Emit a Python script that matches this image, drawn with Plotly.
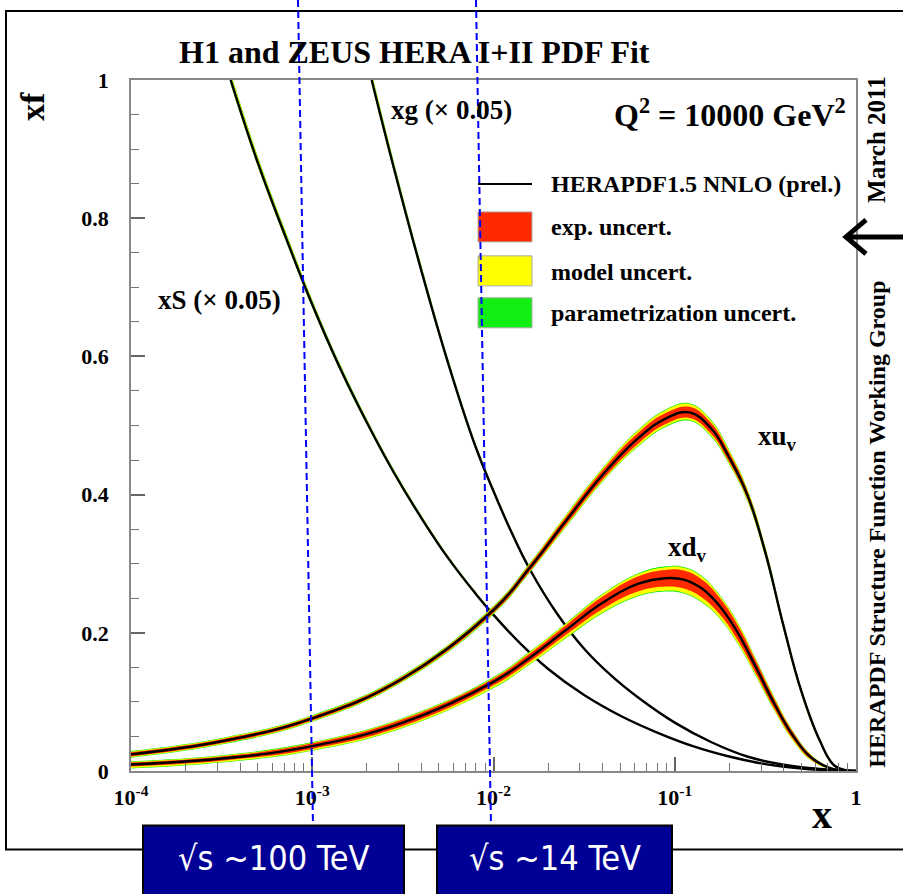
import numpy as np
import plotly.graph_objects as go

# ---------------- data ----------------
# log10(x) grids and central values; xS and xg are scaled by 0.05
LX_S = [-3.45, -3.3, -3.15, -3.0, -2.85, -2.7, -2.55, -2.4, -2.25, -2.1, -2.0, -1.85,
        -1.7, -1.5, -1.3, -1.1, -0.9, -0.7, -0.5, -0.3, -0.1, 0.0]
XS = [1.00, 0.880, 0.775, 0.675, 0.585, 0.505, 0.432, 0.367, 0.308, 0.257, 0.226, 0.184,
      0.148, 0.110, 0.080, 0.056, 0.036, 0.021, 0.010, 0.0035, 0.0005, 0.0]

LX_G = [-2.672, -2.55, -2.4, -2.25, -2.1, -2.0, -1.9, -1.8, -1.65, -1.5, -1.35, -1.2,
        -1.0, -0.8, -0.6, -0.4, -0.2, 0.0]
XG = [1.0, 0.873, 0.726, 0.590, 0.470, 0.405, 0.345, 0.292, 0.228, 0.177, 0.138, 0.106,
      0.070, 0.042, 0.021, 0.009, 0.003, 0.0]

# relative uncertainties for the (thin) sea and gluon bands
S_REL = dict(exp=0.003, mod_up=0.006, mod_dn=0.002, par=0.0015)
G_REL = dict(exp=0.003, mod_up=0.006, mod_dn=0.002, par=0.0015)

LX_UV = [-4.0, -3.5, -3.0, -2.5, -2.0, -1.8, -1.6, -1.4, -1.2, -1.05, -0.92, -0.8,
         -0.7, -0.6, -0.5, -0.4, -0.3, -0.2, -0.12, -0.05, 0.0]
UV = [0.024, 0.043, 0.076, 0.134, 0.233, 0.294, 0.362, 0.428, 0.482, 0.510, 0.519, 0.496,
      0.454, 0.400, 0.316, 0.210, 0.114, 0.044, 0.008, 0.0008, 0.0]
UV_EXP = [0.003, 0.003, 0.003, 0.003, 0.004, 0.005, 0.006, 0.007, 0.008, 0.008, 0.008, 0.008,
          0.007, 0.006, 0.005, 0.004, 0.003, 0.002, 0.001, 0.0005, 0.0]
UV_MOD_UP = [0.001, 0.001, 0.001, 0.001, 0.001, 0.001, 0.002, 0.002, 0.003, 0.004, 0.004, 0.003,
             0.003, 0.002, 0.002, 0.001, 0.001, 0.001, 0.0005, 0.0, 0.0]
UV_MOD_DN = [0.001, 0.001, 0.001, 0.001, 0.001, 0.001, 0.002, 0.002, 0.003, 0.003, 0.003, 0.003,
             0.002, 0.002, 0.001, 0.001, 0.001, 0.0005, 0.0005, 0.0, 0.0]
UV_PAR = [0.0008, 0.0008, 0.0008, 0.0008, 0.001, 0.001, 0.001, 0.001, 0.0012, 0.0012, 0.0012, 0.0012,
          0.001, 0.001, 0.001, 0.0008, 0.0006, 0.0004, 0.0, 0.0, 0.0]

LX_DV = [-4.0, -3.5, -3.0, -2.5, -2.0, -1.8, -1.6, -1.4, -1.2, -1.05, -0.95, -0.85,
         -0.75, -0.65, -0.55, -0.45, -0.35, -0.25, -0.15, -0.05, 0.0]
DV = [0.0094, 0.018, 0.036, 0.070, 0.129, 0.164, 0.204, 0.243, 0.271, 0.279, 0.277, 0.264,
      0.238, 0.199, 0.149, 0.097, 0.052, 0.020, 0.005, 0.0005, 0.0]
DV_EXP = [0.003, 0.003, 0.004, 0.005, 0.005, 0.006, 0.007, 0.009, 0.011, 0.012, 0.013, 0.013,
          0.012, 0.011, 0.009, 0.007, 0.005, 0.003, 0.001, 0.0, 0.0]
DV_MOD_UP = [0.001, 0.001, 0.001, 0.001, 0.001, 0.002, 0.002, 0.003, 0.003, 0.004, 0.004, 0.004,
             0.003, 0.003, 0.002, 0.002, 0.001, 0.001, 0.0005, 0.0, 0.0]
DV_MOD_DN = [0.002, 0.002, 0.002, 0.002, 0.003, 0.003, 0.004, 0.005, 0.006, 0.006, 0.006, 0.006,
             0.005, 0.004, 0.003, 0.002, 0.002, 0.001, 0.0005, 0.0, 0.0]
DV_PAR = [0.0008, 0.0008, 0.0008, 0.0008, 0.001, 0.001, 0.001, 0.001, 0.0012, 0.0012, 0.0012, 0.0012,
          0.001, 0.001, 0.001, 0.0008, 0.0006, 0.0004, 0.0, 0.0, 0.0]

X_TICKS = [1e-4, 1e-3, 1e-2, 1e-1, 1]
X_TICKTEXT = ["10<sup>-4</sup>", "10<sup>-3</sup>", "10<sup>-2</sup>", "10<sup>-1</sup>", "1"]
X_MINOR = [m * 10.0 ** e for e in range(-4, 0) for m in range(2, 10)]
Y_TICKS = [0, 0.2, 0.4, 0.6, 0.8, 1.0]
Y_TICKTEXT = ["0", "0.2", "0.4", "0.6", "0.8", "1"]

LEGEND_LABELS = ["HERAPDF1.5 NNLO (prel.)", "exp. uncert.", "model uncert.", "parametrization uncert."]
BOX_LABELS = ["√s ~100 TeV", "√s ~14 TeV"]

# ---------------- styling ----------------
RED = "#ff2a00"
YELLOW = "#ffff00"
GREEN = "#11ee11"
SERIF = "Liberation Serif"

W, H = 903, 894
L, R, T, B = 131, 856, 80, 771.5


def px(x):
    return (x - L) / (R - L)


def py(y):
    return (B - y) / (B - T)


fig = go.Figure()


def add_pdf(lx, c, e, mu, md, pu, pd):
    x = 10.0 ** np.array(lx)
    c = np.array(c, dtype=float)
    e, mu, md, pu, pd = (np.array(a, dtype=float) for a in (e, mu, md, pu, pd))
    red_up, red_dn = c + e, c - e
    yel_up, yel_dn = red_up + mu, red_dn - md
    grn_up, grn_dn = yel_up + pu, yel_dn - pd
    for up, dn, col in [(grn_up, grn_dn, GREEN), (yel_up, yel_dn, YELLOW), (red_up, red_dn, RED)]:
        dn = np.maximum(dn, 0)
        fig.add_trace(go.Scatter(
            x=np.concatenate([x, x[::-1]]), y=np.concatenate([up, dn[::-1]]),
            fill="toself", fillcolor=col, mode="lines",
            line=dict(width=0, shape="spline", smoothing=1.2),
            hoverinfo="skip", showlegend=False))
    fig.add_trace(go.Scatter(x=x, y=c, mode="lines",
                             line=dict(color="black", width=2.4, shape="spline", smoothing=1.2),
                             hoverinfo="skip", showlegend=False))


def rel(c, r):
    c = np.array(c, dtype=float)
    return c * r["exp"], c * r["mod_up"], c * r["mod_dn"], c * r["par"], c * r["par"]


add_pdf(LX_S, XS, *rel(XS, S_REL))
add_pdf(LX_G, XG, *rel(XG, G_REL))
add_pdf(LX_UV, UV, UV_EXP, UV_MOD_UP, UV_MOD_DN, UV_PAR, UV_PAR)
add_pdf(LX_DV, DV, DV_EXP, DV_MOD_UP, DV_MOD_DN, DV_PAR, DV_PAR)

axis_font = dict(family=SERIF, size=22, color="black", weight="bold")
fig.update_layout(
    width=W, height=H, autosize=False,
    margin=dict(l=L, r=W - R, t=T, b=H - B, pad=0),
    paper_bgcolor="white", plot_bgcolor="white",
    showlegend=False,
    xaxis=dict(type="log", range=[-4, 0], tickmode="array", tickvals=X_TICKS, ticktext=X_TICKTEXT,
               ticks="inside", ticklen=14, tickwidth=1.5, tickcolor="#666",
               minor=dict(ticks="inside", ticklen=8, tickwidth=1.2, tickcolor="#777",
                          tickmode="array", tickvals=X_MINOR, showgrid=False),
               showline=True, linecolor="#888", linewidth=1.5, mirror=True,
               showgrid=False, zeroline=False, tickfont=axis_font, ticklabelstandoff=6),
    yaxis=dict(range=[0, 1], tickmode="array", tickvals=Y_TICKS, ticktext=Y_TICKTEXT,
               ticks="inside", ticklen=14, tickwidth=1.5, tickcolor="#666",
               minor=dict(ticks="inside", ticklen=8, tickwidth=1.2, tickcolor="#777",
                          dtick=0.05, tick0=0, showgrid=False),
               showline=True, linecolor="#888", linewidth=1.5, mirror=True,
               showgrid=False, zeroline=False, tickfont=axis_font, ticklabelstandoff=16),
)

shapes = []
ann = []


def text(t, x, y, size, xanchor="center", yanchor="middle", angle=0, color="black",
         family=SERIF, weight="bold"):
    ann.append(dict(text=t, x=px(x), y=py(y), xref="paper", yref="paper", showarrow=False,
                    xanchor=xanchor, yanchor=yanchor, textangle=angle,
                    font=dict(family=family, size=size, color=color, weight=weight)))


# outer frame
shapes.append(dict(type="rect", xref="paper", yref="paper", x0=px(6), x1=px(915), y0=py(11), y1=py(850),
                   line=dict(color="black", width=2), fillcolor="rgba(0,0,0,0)", layer="below"))

# titles and labels
text("H1 and ZEUS HERA I+II PDF Fit", 414, 52, 32)
text("Q<sup>2</sup> = 10000 GeV<sup>2</sup>", 848, 113, 32, xanchor="right")
text("xg (× 0.05)", 389, 110, 27, xanchor="left")
text("xS (× 0.05)", 156, 300, 27, xanchor="left")
text("xu<sub>v</sub>", 777, 438, 27)
text("xd<sub>v</sub>", 687, 549, 27)
text("xf", 33, 107, 34, angle=-90)
text("x", 822, 815, 40)
text("HERAPDF Structure Function Working Group", 877, 525, 24, angle=-90)
text("March 2011", 877, 140, 25, angle=-90)

# legend
shapes.append(dict(type="line", xref="paper", yref="paper", x0=px(478), x1=px(532), y0=py(184), y1=py(184),
                   line=dict(color="black", width=2)))
for (y0, y1), col in zip([(212, 242), (256, 286), (298, 328)], [RED, YELLOW, GREEN]):
    shapes.append(dict(type="rect", xref="paper", yref="paper", x0=px(478), x1=px(532), y0=py(y0), y1=py(y1),
                       line=dict(color="#aaaaaa", width=1), fillcolor=col))
for lab, yy in zip(LEGEND_LABELS, [184, 227, 272, 313]):
    text(lab, 549, yy, 24, xanchor="left")

# blue dashed guide lines
for (xa, xb) in [(298, 313), (476, 491)]:
    shapes.append(dict(type="line", xref="paper", yref="paper", x0=px(xa), x1=px(xb), y0=py(0), y1=py(826),
                       line=dict(color="#0000ff", width=2, dash="7px,4px"), layer="above"))

# boxes with energies
for (xa, xb), lab in zip([(143, 404), (437, 672)], BOX_LABELS):
    shapes.append(dict(type="rect", xref="paper", yref="paper", x0=px(xa), x1=px(xb), y0=py(826), y1=py(897),
                       line=dict(color="black", width=2), fillcolor="#000096", layer="above"))
    text(lab, (xa + xb) / 2, 859, 34, color="white",
         family="Liberation Sans Narrow, DejaVu Sans Condensed, Noto Sans, sans-serif", weight="normal")

# arrow on the right
arrow_path = "M {} {} L {} {} M {} {} L {} {} L {} {}".format(
    px(905), py(237), px(846), py(237),
    px(866), py(220), px(846), py(237), px(866), py(254))
shapes.append(dict(type="path", xref="paper", yref="paper", path=arrow_path,
                   line=dict(color="black", width=5)))

fig.update_layout(shapes=shapes, annotations=ann)
fig.write_html("out.html", config={"displayModeBar": False},
               post_script="document.body.style.margin='0';")
